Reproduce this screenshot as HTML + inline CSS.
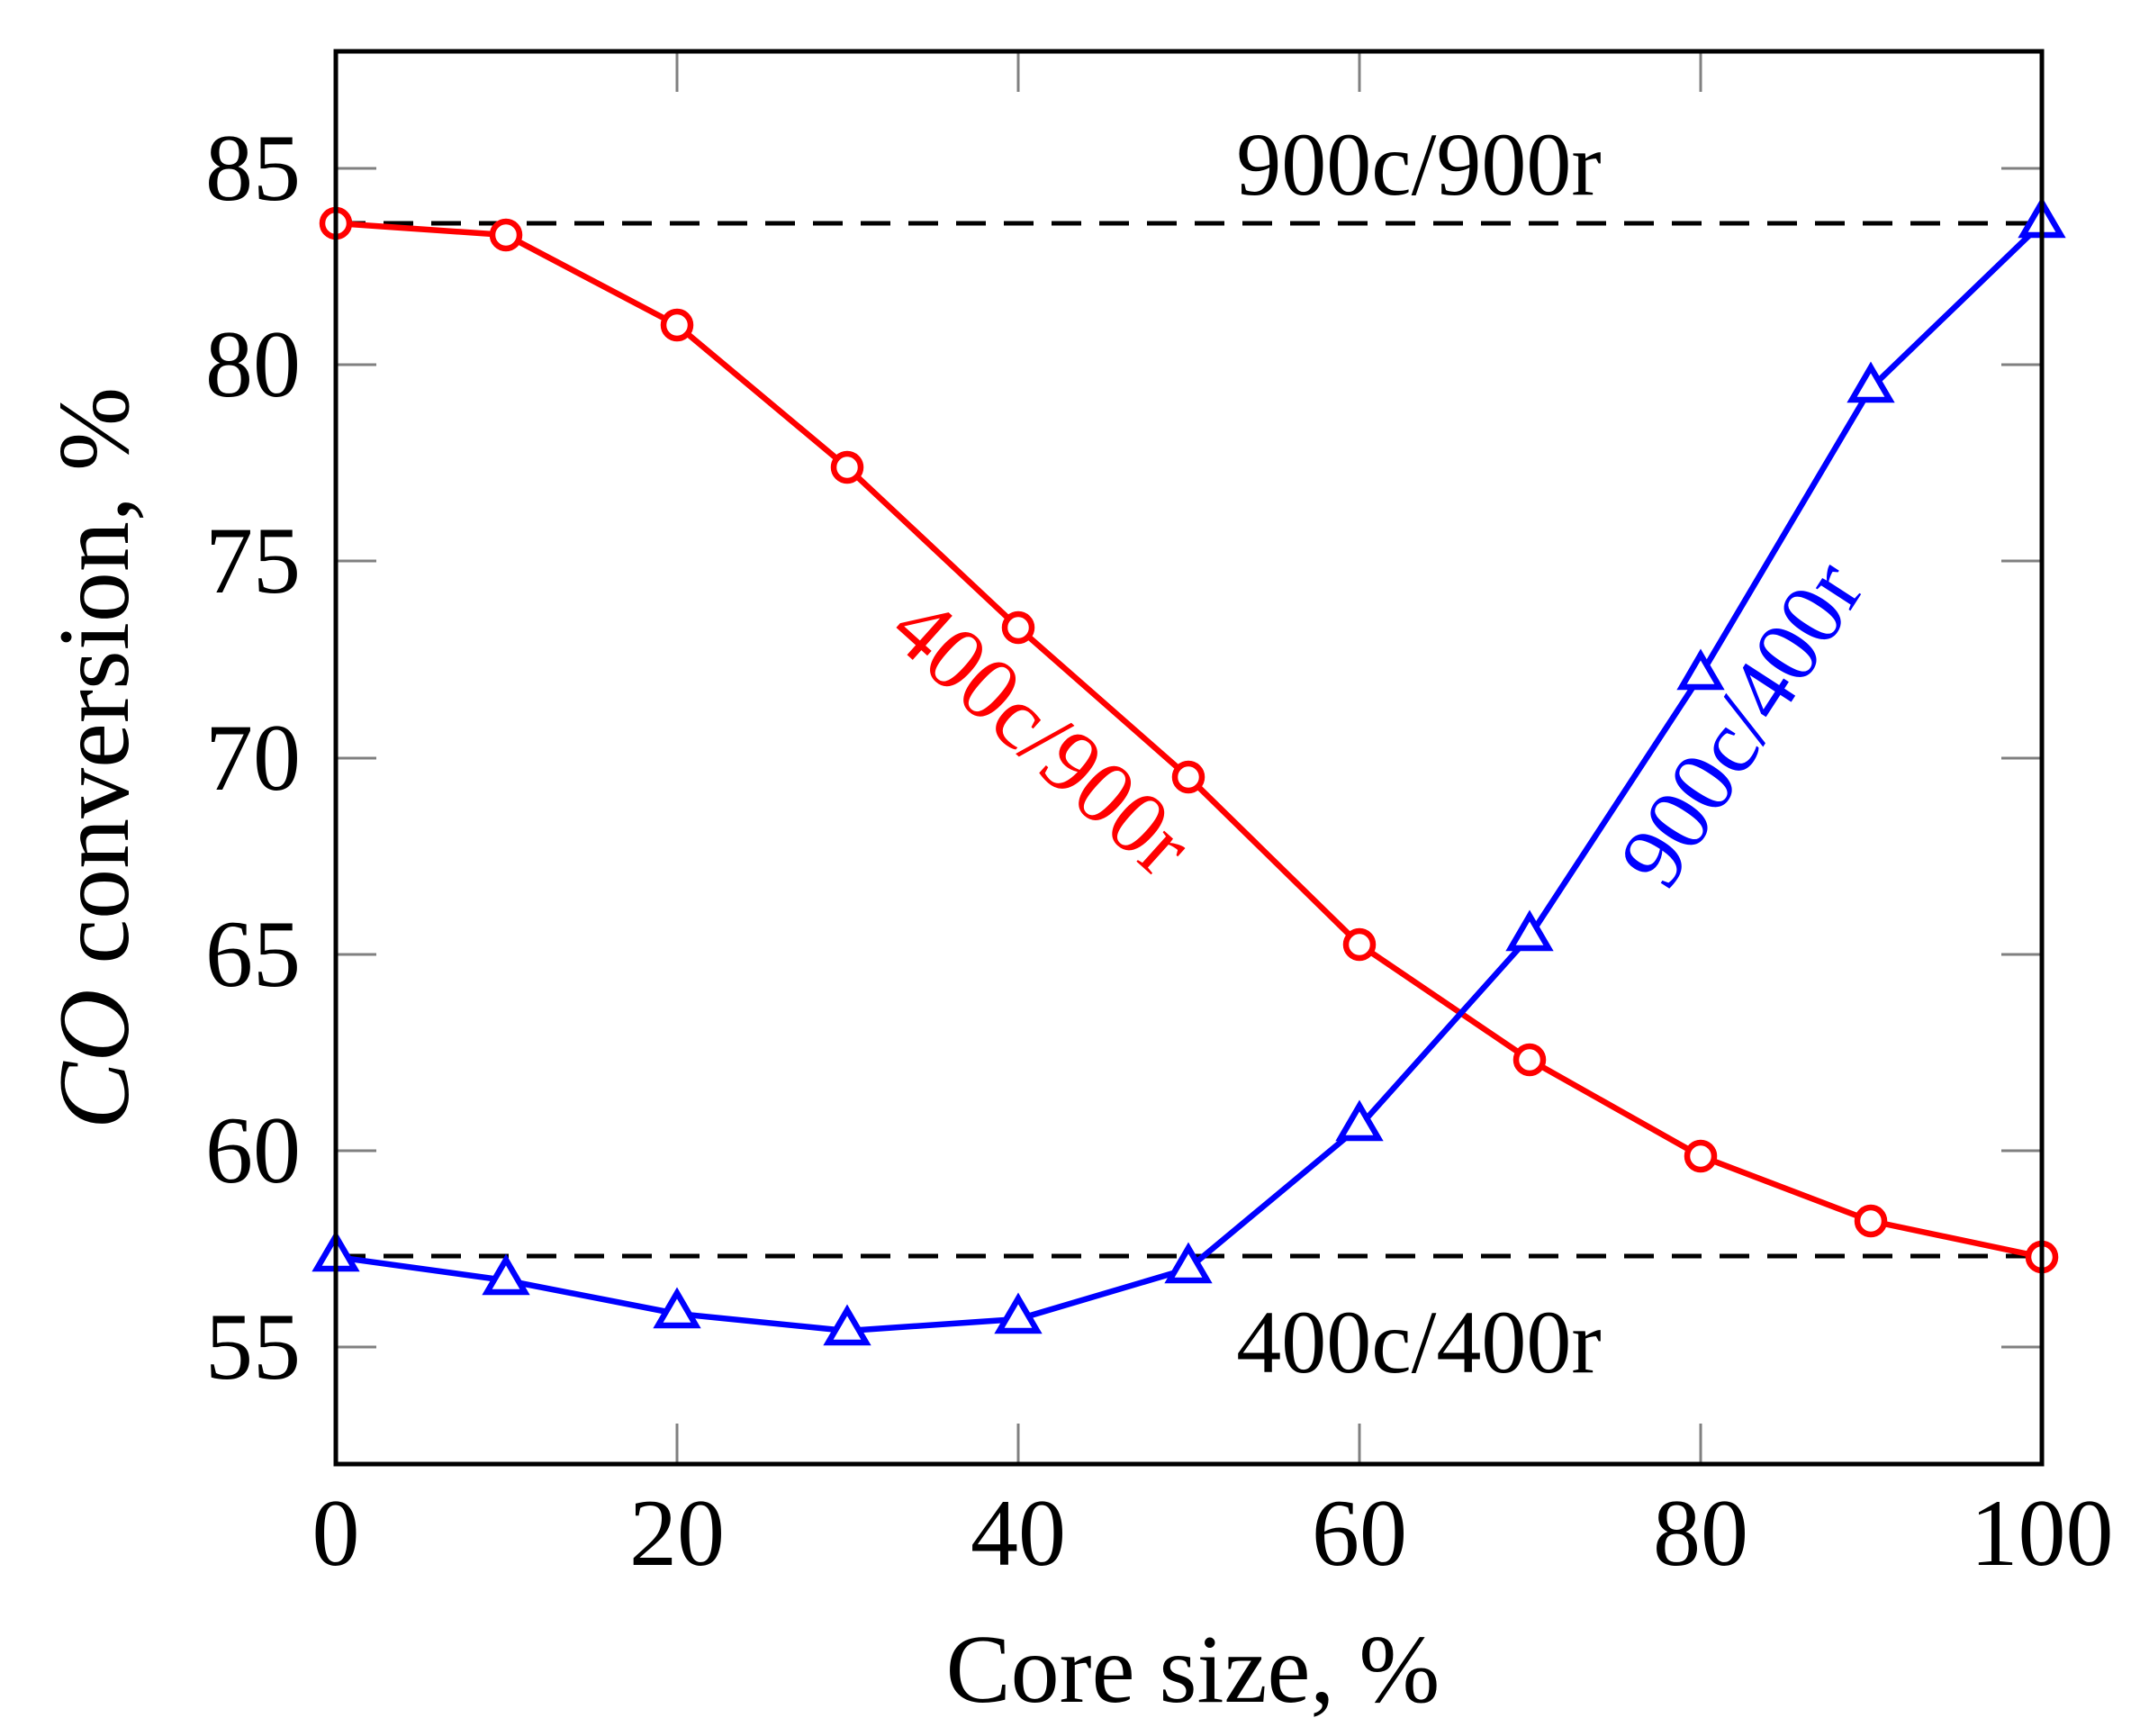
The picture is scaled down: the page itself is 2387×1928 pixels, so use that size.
<!DOCTYPE html>
<html><head><meta charset="utf-8"><style>html,body{margin:0;padding:0;background:#fff}svg{display:block}</style></head>
<body>
<svg width="2387" height="1928" viewBox="0 0 2387 1928" xmlns="http://www.w3.org/2000/svg" font-family="'Liberation Serif', serif">
<rect width="2387" height="1928" fill="#fff"/>
<g stroke="#808080" stroke-width="3">
<path d="M373 187h45M373 405h45M373 623h45M373 842h45M373 1060h45M373 1278h45M373 1496h45"/>
<path d="M2268 187h-45M2268 405h-45M2268 623h-45M2268 842h-45M2268 1060h-45M2268 1278h-45M2268 1496h-45"/>
<path d="M752 1626v-45M1131 1626v-45M1510 1626v-45M1889 1626v-45"/>
<path d="M752 57v45M1131 57v45M1510 57v45M1889 57v45"/>
</g>
<g stroke="#000" stroke-width="5" stroke-dasharray="33 20" fill="none">
<path d="M373 248H2268"/>
<path d="M373 1395H2268"/>
</g>
<polyline fill="none" stroke="#f00" stroke-width="6.5" stroke-linejoin="round" points="373,248 562,261 752,361 941,519 1131,697 1320,863 1510,1049 1699,1177 1889,1284 2078,1356 2268,1396"/>
<g fill="#fff" stroke="#f00" stroke-width="6.5">
<circle cx="373" cy="248" r="15"/><circle cx="562" cy="261" r="15"/><circle cx="752" cy="361" r="15"/><circle cx="941" cy="519" r="15"/><circle cx="1131" cy="697" r="15"/><circle cx="1320" cy="863" r="15"/><circle cx="1510" cy="1049" r="15"/><circle cx="1699" cy="1177" r="15"/><circle cx="1889" cy="1284" r="15"/><circle cx="2078" cy="1356" r="15"/><circle cx="2268" cy="1396" r="15"/>
</g>
<polyline fill="none" stroke="#00f" stroke-width="6.5" stroke-linejoin="round" points="373,1396 562,1422 752,1459 941,1478 1131,1465 1320,1409 1510,1251 1699,1040 1889,750 2078,431 2268,248"/>
<g fill="#fff" stroke="#00f" stroke-width="6.5">
<path d="M373 1373l21 36h-42z"/>
<path d="M562 1399l21 36h-42z"/><path d="M752 1436l21 36h-42z"/><path d="M941 1455l21 36h-42z"/><path d="M1131 1442l21 36h-42z"/><path d="M1320 1386l21 36h-42z"/><path d="M1510 1228l21 36h-42z"/><path d="M1699 1017l21 36h-42z"/><path d="M1889 727l21 36h-42z"/><path d="M2078 408l21 36h-42z"/><path d="M2268 225l21 36h-42z"/>
</g>
<rect x="373" y="57" width="1895" height="1569" fill="none" stroke="#000" stroke-width="5"/>
<g font-size="106" text-anchor="end" fill="#000">
<text x="334" y="222">85</text><text x="334" y="440">80</text><text x="334" y="658">75</text><text x="334" y="877">70</text><text x="334" y="1095">65</text><text x="334" y="1313">60</text><text x="334" y="1531">55</text>
</g>
<g font-size="106" text-anchor="middle" fill="#000">
<text x="373" y="1738">0</text><text x="752" y="1738">20</text><text x="1131" y="1738">40</text><text x="1510" y="1738">60</text><text x="1889" y="1738">80</text><text x="2268" y="1738">100</text>
<text x="1325" y="1890" font-size="108">Core size, %</text>
<text transform="translate(142 842) rotate(-90)" font-size="112"><tspan font-style="italic">CO</tspan> conversion, %</text>
</g>
<g font-size="100" text-anchor="middle">
<text x="1576" y="216" fill="#000">900c/900r</text>
<text x="1576" y="1524" fill="#000">400c/400r</text>
<text fill="#f00" transform="translate(1135 842) rotate(42)">400c/900r</text>
<text fill="#00f" transform="translate(1962 822) rotate(-57)">900c/400r</text>
</g>
</svg>
</body></html>
